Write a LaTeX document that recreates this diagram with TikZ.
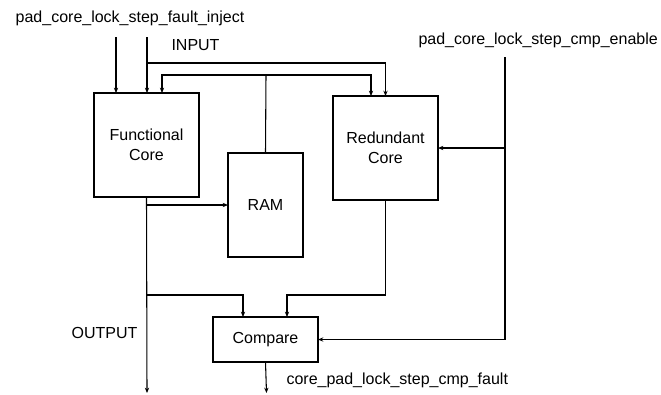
\documentclass[tikz,border=0pt]{standalone}
\usepackage{fontspec}
\setmainfont{Liberation Sans}
\usepackage{tikz}
\usetikzlibrary{arrows.meta, calc, positioning}

\begin{document}
\begin{tikzpicture}[x=0.75pt, y=-0.75pt, >={Stealth[length=4pt, width=3.2pt]}, line width=0.8pt,
    block/.style={draw, fill=white, outer sep=0pt, inner sep=0pt, align=center, font=\fontsize{12}{15}\selectfont},
    lbl/.style={inner sep=0pt, font=\fontsize{12}{15}\selectfont}]
    \useasboundingbox (0,0) rectangle (661,394);

    % Các khối chính
    \node[block, minimum width=78.75pt, minimum height=78pt] (fc) at (146.5,145) {Functional\\Core};
    \node[block, minimum width=56.25pt, minimum height=78pt] (ram) at (265.5,205) {RAM};
    \node[block, minimum width=78.75pt, minimum height=78pt] (rc) at (385.5,148) {Redundant\\Core};
    \node[block, minimum width=78.75pt, minimum height=33.75pt] (cmp) at (265.5,339.5) {Compare};

    % Tín hiệu vào và ra
    \coordinate (fi) at (116,37);
    \coordinate (in) at (147,37);
    \coordinate (inbus) at (147,63);
    \coordinate (rambus) at (266,75);
    \coordinate (en) at (505,57);
    \coordinate (join) at (147,295);
    \coordinate (out) at (147,393);
    \coordinate (fo) at (266.5,393);

    % Vẽ mũi tên
    \draw[->] (fi) -- (fi |- fc.north);
    \draw[->] (in) -- (in |- fc.north);
    \draw[->] (inbus) -| (rc.north);
    \draw (ram.north) -- (rambus);
    \draw[->] (rambus) -| ($(fc.north)+(15.5,0)$);
    \draw[->] (rambus) -| ($(rc.north)+(-14.5,0)$);
    \draw (en) -- (en |- cmp.east);
    \draw[->] (en |- rc.east) -- (rc.east);
    \draw[->] (en |- cmp.east) -- (cmp.east);
    \draw[->] (fc.south) -- (out);
    \draw[->] (fc.south |- ram.west) -- (ram.west);
    \draw[->] (join) -| ($(cmp.north)+(-22.5,0)$);
    \draw[->] (rc.south) |- ($(cmp.north)+(21.5,-22)$) -- ($(cmp.north)+(21.5,0)$);
    \draw[->] (cmp.south) -- (fo);

    % Tên các tín hiệu
    \node[lbl] (fil) at (130,18) {pad\_core\_lock\_step\_fault\_inject};
    \node[lbl] (inl) at (195.5,45) {INPUT};
    \node[lbl, anchor=west] (enl) at (418,40) {pad\_core\_lock\_step\_cmp\_enable};
    \node[lbl] (outl) at (104.5,333) {OUTPUT};
    \node[lbl, anchor=west] (fol) at (286,380) {core\_pad\_lock\_step\_cmp\_fault};
\end{tikzpicture}
\end{document}
